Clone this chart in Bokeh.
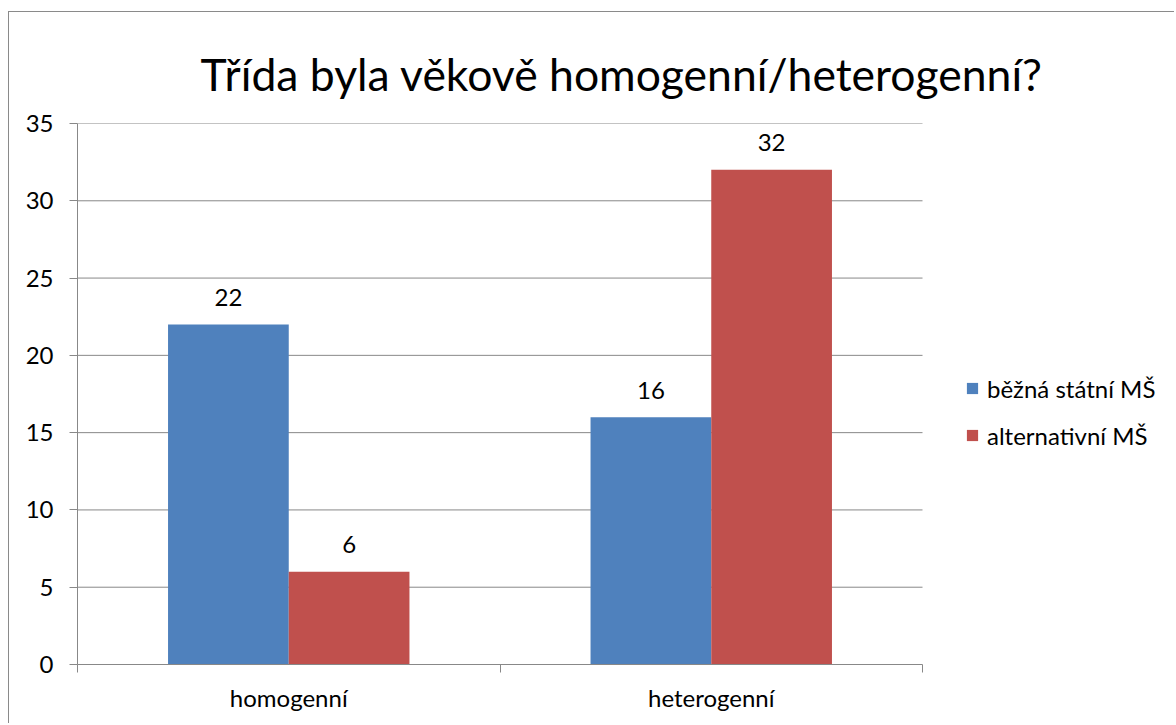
from bokeh.plotting import figure
from bokeh.models import Range1d, FixedTicker, Legend, LegendItem, ColumnDataSource
from bokeh.core.properties import value
from bokeh.embed import file_html
from bokeh.resources import INLINE

# ---- data ----
categories = ["homogenní", "heterogenní"]
series_names = ["běžná státní MŠ", "alternativní MŠ"]
bezna_statni = [22, 16]
alternativni = [6, 32]
y_ticks = [0, 5, 10, 15, 20, 25, 30, 35]
title_text = "Třída byla věkově homogenní/heterogenní?"

# ---- style ----
FONT = "Lato"
SMALL = "24px"
BLUE = "#4F81BD"
RED = "#C0504D"
GRAY = "#888888"
bar_w = 1 / 3.5  # Excel gap width 150 %

W, H = 1166, 712
LEFT, TOP, BOTTOM = 68, 111, 60
FRAME_W = W - LEFT          # frame reaches the right edge (legend lives inside it)
PLOT_W = 845                # pixel width of the category area

n = len(categories)
x_end = n * FRAME_W / PLOT_W
centers = [i + 0.5 for i in range(n)]
x_blue = [c - bar_w / 2 for c in centers]
x_red = [c + bar_w / 2 for c in centers]

src_b = ColumnDataSource(dict(x=x_blue, top=bezna_statni, lbl=[str(v) for v in bezna_statni]))
src_r = ColumnDataSource(dict(x=x_red, top=alternativni, lbl=[str(v) for v in alternativni]))

p = figure(width=W, height=H, output_backend="svg", toolbar_location=None,
           x_range=Range1d(0, x_end), y_range=Range1d(y_ticks[0], y_ticks[-1]),
           min_border_left=LEFT, min_border_right=0, min_border_top=TOP,
           min_border_bottom=BOTTOM)
p.margin = (11, 0, 0, 8)
p.styles = {"border-left": "1px solid #8a8a8a", "border-top": "1px solid #8a8a8a"}
p.outline_line_color = None
p.background_fill_color = "white"
p.border_fill_color = "white"

# horizontal gridlines only across the category area
p.ygrid.visible = False
p.xgrid.visible = False
p.segment(x0=[0] * (len(y_ticks) - 1), x1=[n] * (len(y_ticks) - 1),
          y0=y_ticks[1:], y1=y_ticks[1:], line_color=GRAY, line_width=1)

rb = p.vbar(x="x", top="top", width=bar_w, source=src_b, fill_color=BLUE, line_color=None)
rr = p.vbar(x="x", top="top", width=bar_w, source=src_r, fill_color=RED, line_color=None)

for src in (src_b, src_r):
    p.text(x="x", y="top", text="lbl", source=src, text_align="center",
           text_baseline="alphabetic", y_offset=-27, text_font=value(FONT),
           text_font_size=SMALL, text_color="black")

# title
p.title.text = title_text
p.title.text_font = FONT
p.title.text_font_size = "44.5px"
p.title.text_font_style = "normal"
p.title.text_color = "black"
p.title.align = "left"
p.title.vertical_align = "top"
p.title.offset = 123
p.title.standoff = 44

# y axis
p.yaxis.ticker = FixedTicker(ticks=y_ticks)
p.yaxis.major_tick_out = 8
p.yaxis.major_tick_in = 0
p.yaxis.minor_tick_line_color = None
p.yaxis.axis_line_color = GRAY
p.yaxis.major_tick_line_color = GRAY
p.yaxis.major_label_text_font = FONT
p.yaxis.major_label_text_font_size = SMALL
p.yaxis.major_label_text_color = "black"
p.yaxis.major_label_standoff = 16

# x axis
p.xaxis.bounds = (0, n)
p.xaxis.ticker = FixedTicker(ticks=centers, minor_ticks=list(range(n + 1)))
p.xaxis.major_label_overrides = {c: cat for c, cat in zip(centers, categories)}
p.xaxis.major_tick_line_color = None
p.xaxis.major_tick_out = 0
p.xaxis.major_tick_in = 0
p.xaxis.minor_tick_out = 8
p.xaxis.minor_tick_in = 0
p.xaxis.minor_tick_line_color = GRAY
p.xaxis.axis_line_color = GRAY
p.xaxis.major_label_text_font = FONT
p.xaxis.major_label_text_font_size = SMALL
p.xaxis.major_label_text_color = "black"
p.xaxis.major_label_standoff = 10

legend = Legend(items=[LegendItem(label=series_names[0], renderers=[rb]),
                       LegendItem(label=series_names[1], renderers=[rr])],
                location=(PLOT_W + 43, 214), padding=0, margin=0, border_line_color=None,
                background_fill_alpha=0, glyph_width=14, glyph_height=14,
                label_height=30, spacing=17, label_standoff=8,
                label_text_font=FONT, label_text_font_size=SMALL,
                label_text_color="black")
p.add_layout(legend, "center")

open("out.html", "w").write(file_html(p, INLINE))
